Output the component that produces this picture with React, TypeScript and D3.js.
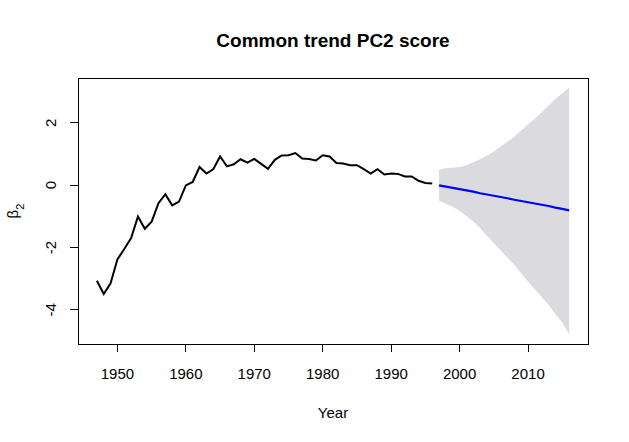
import * as d3 from "d3";
import React, { useEffect } from "react";

// observed common trend score
const histYears = d3.range(1947, 1997);
const histValues = [
  -3.07, -3.49, -3.15, -2.38, -2.05, -1.7, -1.01, -1.4, -1.17, -0.58,
  -0.29, -0.65, -0.53, -0.01, 0.1, 0.58, 0.37, 0.51, 0.92, 0.6,
  0.67, 0.83, 0.72, 0.84, 0.68, 0.52, 0.81, 0.95, 0.96, 1.03,
  0.85, 0.84, 0.79, 0.96, 0.92, 0.71, 0.69, 0.64, 0.64, 0.51,
  0.37, 0.51, 0.34, 0.37, 0.36, 0.28, 0.28, 0.14, 0.07, 0.05,
];

// forecast with interval
const fcYears = d3.range(1997, 2017);
const fcMean = [
  -0.01, -0.05, -0.09, -0.13, -0.17, -0.21, -0.26, -0.3, -0.34, -0.38,
  -0.42, -0.47, -0.51, -0.55, -0.59, -0.63, -0.67, -0.72, -0.76, -0.81,
];
const fcUpper = [
  0.49, 0.55, 0.56, 0.58, 0.64, 0.73, 0.83, 0.95, 1.08, 1.24,
  1.39, 1.56, 1.75, 1.95, 2.14, 2.34, 2.55, 2.76, 2.95, 3.12,
];
const fcLower = [
  -0.5, -0.6, -0.69, -0.83, -0.99, -1.17, -1.38, -1.63, -1.86, -2.1,
  -2.32, -2.56, -2.83, -3.09, -3.34, -3.6, -3.84, -4.14, -4.41, -4.78,
];

const xTicks = [1950, 1960, 1970, 1980, 1990, 2000, 2010];
const yTicks = [-4, -2, 0, 2];

const width = 629;
const height = 442;
const margin = { top: 78, right: 41, bottom: 98, left: 78 };
const font = "'Liberation Sans', Arial, sans-serif";

// R style 4% axis extension
const pad = (lo: number, hi: number): [number, number] => {
  const d = (hi - lo) * 0.04;
  return [lo - d, hi + d];
};

const App: React.FC = () => {
  useEffect(() => {
    document.body.style.margin = "0";
  }, []);

  const x = d3
    .scaleLinear()
    .domain(pad(1947, 2016))
    .range([margin.left, width - margin.right]);
  const yMin = Math.min(d3.min(histValues)!, d3.min(fcLower)!);
  const yMax = Math.max(d3.max(histValues)!, d3.max(fcUpper)!);
  const y = d3
    .scaleLinear()
    .domain(pad(yMin, yMax))
    .range([height - margin.bottom, margin.top]);

  const hist = histYears.map((yr, i) => [yr, histValues[i]] as [number, number]);
  const fc = fcYears.map((yr, i) => ({
    yr,
    mean: fcMean[i],
    lo: fcLower[i],
    hi: fcUpper[i],
  }));

  const line = d3
    .line<[number, number]>()
    .x((d) => x(d[0]))
    .y((d) => y(d[1]));
  const meanLine = d3
    .line<(typeof fc)[number]>()
    .x((d) => x(d.yr))
    .y((d) => y(d.mean));
  const band = d3
    .area<(typeof fc)[number]>()
    .x((d) => x(d.yr))
    .y0((d) => y(d.lo))
    .y1((d) => y(d.hi));

  const bottom = height - margin.bottom;
  const left = margin.left;
  const cx = (margin.left + width - margin.right) / 2;
  const cy = (margin.top + bottom) / 2;

  return (
    <svg width={width} height={height} style={{ display: "block", background: "#fff" }}>
      <text
        x={cx}
        y={47}
        textAnchor="middle"
        fontFamily={font}
        fontWeight="bold"
        fontSize={19}
      >
        Common trend PC2 score
      </text>

      <path d={band(fc)!} fill="#dadadf" stroke="none" />
      <path d={line(hist)!} fill="none" stroke="#000" strokeWidth={2} />
      <path d={meanLine(fc)!} fill="none" stroke="#0000ff" strokeWidth={2.2} />

      <rect
        x={left}
        y={margin.top}
        width={width - margin.left - margin.right}
        height={bottom - margin.top}
        fill="none"
        stroke="#000"
        strokeWidth={1}
        shapeRendering="crispEdges"
      />

      {xTicks.map((t) => (
        <g key={t}>
          <line
            x1={x(t)}
            x2={x(t)}
            y1={bottom}
            y2={bottom + 8}
            stroke="#000"
            shapeRendering="crispEdges"
          />
          <text x={x(t)} y={379} textAnchor="middle" fontFamily={font} fontSize={15}>
            {t}
          </text>
        </g>
      ))}

      {yTicks.map((t) => (
        <g key={t}>
          <line
            x1={left - 8}
            x2={left}
            y1={y(t)}
            y2={y(t)}
            stroke="#000"
            shapeRendering="crispEdges"
          />
          <text
            transform={`translate(56,${y(t)}) rotate(-90)`}
            textAnchor="middle"
            fontFamily={font}
            fontSize={15}
          >
            {t}
          </text>
        </g>
      ))}

      <text x={cx} y={418} textAnchor="middle" fontFamily={font} fontSize={15}>
        Year
      </text>
      <text
        transform={`translate(18,${cy}) rotate(-90)`}
        textAnchor="middle"
        fontFamily={font}
        fontSize={15}
      >
        β<tspan baselineShift="sub" fontSize={11}>2</tspan>
      </text>
    </svg>
  );
};

export default App;
